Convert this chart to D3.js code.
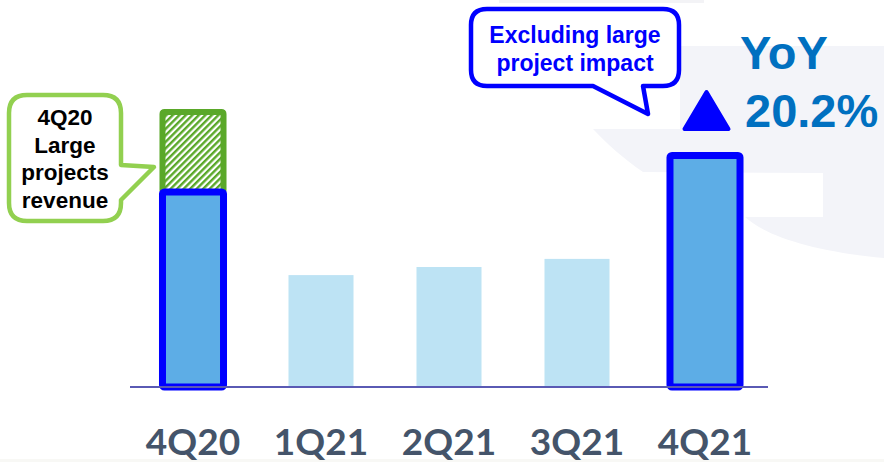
<!DOCTYPE html>
<html>
<head>
<meta charset="utf-8">
<script src="https://cdn.jsdelivr.net/npm/d3@7"></script>
<style>
  body { margin: 0; background: #fff; }
  svg { display: block; }
</style>
</head>
<body>
<div id="chart"></div>
<script>
// quarterly revenue (relative units)
var quarters = ["4Q20", "1Q21", "2Q21", "3Q21", "4Q21"];
var revenue = [65, 37.3, 40, 42.7, 77.2];       // excluding large projects
var largeProjects = [26.7, 0, 0, 0, 0];          // hatched segment on top
var highlighted = ["4Q20", "4Q21"];
var yoyText = ["YoY", "20.2%"];
var leftNote = ["4Q20", "Large", "projects", "revenue"];
var topNote = ["Excluding large", "project impact"];

var svgWidth = 884;
var svgHeight = 462;

var svg = d3.select("#chart")
  .append("svg")
  .attr("width", svgWidth)
  .attr("height", svgHeight);

var data = quarters.map(function(q, i) {
  return { q: q, base: revenue[i], large: largeProjects[i] };
});

// hatch pattern for the large projects segment
var defs = svg.append("defs");
var hatch = defs.append("pattern")
  .attr("id", "hatch")
  .attr("patternUnits", "userSpaceOnUse")
  .attr("width", 4.6)
  .attr("height", 4.6)
  .attr("patternTransform", "rotate(45)");
hatch.append("rect").attr("width", 4.6).attr("height", 4.6).attr("fill", "#fff");
hatch.append("rect").attr("width", 2.4).attr("height", 4.6).attr("fill", "#5aa829");

// faint watermark in the background
svg.append("rect")
  .attr("x", 499).attr("y", 0).attr("width", 205).attr("height", 3)
  .attr("fill", "#f3f3f6");
svg.append("rect")
  .attr("x", 0).attr("y", 459).attr("width", svgWidth).attr("height", 3)
  .attr("fill", "#f8f8f5");
svg.append("path")
  .attr("d", "M680,46 L884,46 L884,258 C820,252 768,238 745,217 L823,217 L823,173 L643,172 C625,160 605,142 593,129 L680,129 Z")
  .attr("fill", "#f3f4f9");

// scales
var x = d3.scaleBand()
  .domain(quarters)
  .range([129, 769])
  .paddingInner(0.492)
  .paddingOuter(0.246);

var y = d3.scaleLinear()
  .domain([0, 100])
  .range([387, 87]);

var bw = x.bandwidth();

// plain bars
svg.selectAll(".bar")
  .data(data.filter(d => highlighted.indexOf(d.q) < 0))
  .enter()
  .append("rect")
  .attr("class", "bar")
  .attr("x", d => x(d.q))
  .attr("y", d => y(d.base))
  .attr("width", bw)
  .attr("height", d => y(0) - y(d.base))
  .attr("fill", "#bde3f4");

// large projects segment (hatched)
svg.selectAll(".large")
  .data(data.filter(d => d.large > 0))
  .enter()
  .append("rect")
  .attr("class", "large")
  .attr("x", d => x(d.q) + 2)
  .attr("y", d => y(d.base + d.large))
  .attr("width", bw - 4)
  .attr("height", d => y(d.base) - y(d.base + d.large))
  .attr("rx", 2)
  .attr("fill", "url(#hatch)")
  .attr("stroke", "#5aa829")
  .attr("stroke-width", 6);

// highlighted bars with thick blue outline
svg.selectAll(".hbar")
  .data(data.filter(d => highlighted.indexOf(d.q) >= 0))
  .enter()
  .append("rect")
  .attr("class", "hbar")
  .attr("x", d => d.q === "4Q21" ? x(d.q) - 2.5 : x(d.q) + 2)
  .attr("y", d => y(d.base))
  .attr("width", d => d.q === "4Q21" ? bw + 5 : bw - 4)
  .attr("height", d => y(0) - y(d.base))
  .attr("rx", 2)
  .attr("fill", "#5dade6")
  .attr("stroke", "#0000ff")
  .attr("stroke-width", 7);

// baseline
svg.append("line")
  .attr("x1", 130).attr("x2", 768)
  .attr("y1", y(0)).attr("y2", y(0))
  .attr("stroke", "#5a5ab4")
  .attr("stroke-width", 2);

// x axis labels
var xAxis = d3.axisBottom(x).tickSize(0).tickPadding(0);
var axisG = svg.append("g")
  .attr("transform", "translate(0, 429)")
  .call(xAxis);
axisG.select(".domain").remove();
axisG.selectAll("text")
  .attr("y", 0)
  .attr("dy", "26px")
  .attr("font-family", "Lato")
  .attr("font-weight", "bold")
  .attr("font-size", "37px")
  .attr("fill", "#44546a");

// callout helper: rounded box with a pointer
function callout(x0, y0, x1, y1, r, tail) {
  var p = d3.path();
  p.moveTo(x0 + r, y0);
  p.lineTo(x1 - r, y0);
  p.quadraticCurveTo(x1, y0, x1, y0 + r);
  if (tail.side === "right") {
    p.lineTo(x1, tail.a);
    p.lineTo(tail.tx, tail.ty);
    p.lineTo(x1, tail.b);
  }
  p.lineTo(x1, y1 - r);
  p.quadraticCurveTo(x1, y1, x1 - r, y1);
  if (tail.side === "bottom") {
    p.lineTo(tail.b, y1);
    p.lineTo(tail.tx, tail.ty);
    p.lineTo(tail.a, y1);
  }
  p.lineTo(x0 + r, y1);
  p.quadraticCurveTo(x0, y1, x0, y1 - r);
  p.lineTo(x0, y0 + r);
  p.quadraticCurveTo(x0, y0, x0 + r, y0);
  p.closePath();
  return p.toString();
}

// left note
svg.append("path")
  .attr("d", callout(9, 95, 121, 221, 18, { side: "right", a: 165, b: 200, tx: 154, ty: 167 }))
  .attr("fill", "#fff")
  .attr("stroke", "#92d050")
  .attr("stroke-width", 4.5)
  .attr("stroke-linejoin", "round");

svg.append("g").selectAll("text")
  .data(leftNote)
  .enter()
  .append("text")
  .attr("x", 65)
  .attr("y", (d, i) => 125 + i * 27.7)
  .attr("text-anchor", "middle")
  .attr("font-family", "Liberation Sans, Arial, sans-serif")
  .attr("font-weight", "bold")
  .attr("font-size", "22.5px")
  .attr("fill", "#000")
  .text(d => d);

// top note
svg.append("path")
  .attr("d", callout(471, 9, 679, 86, 16, { side: "bottom", a: 593, b: 643, tx: 648, ty: 114 }))
  .attr("fill", "#fff")
  .attr("stroke", "#0000ff")
  .attr("stroke-width", 4.5)
  .attr("stroke-linejoin", "round");

svg.append("g").selectAll("text")
  .data(topNote)
  .enter()
  .append("text")
  .attr("x", 575)
  .attr("y", (d, i) => 43 + i * 28)
  .attr("text-anchor", "middle")
  .attr("font-family", "Liberation Sans, Arial, sans-serif")
  .attr("font-weight", "bold")
  .attr("font-size", "23px")
  .attr("fill", "#0000ff")
  .text(d => d);

// YoY up arrow and figure
var cx = x("4Q21") + bw / 2 + 1.5;
svg.append("path")
  .attr("d", `M${cx},92 L${cx + 22},129 L${cx - 22},129 Z`)
  .attr("fill", "#0000ff")
  .attr("stroke", "#0000ff")
  .attr("stroke-width", 4)
  .attr("stroke-linejoin", "round");

svg.append("text")
  .attr("x", 740).attr("y", 69)
  .attr("font-family", "Liberation Sans, Arial, sans-serif")
  .attr("font-weight", "bold")
  .attr("font-size", "47px")
  .attr("fill", "#0070c0")
  .text(yoyText[0]);

svg.append("text")
  .attr("x", 745).attr("y", 127)
  .attr("font-family", "Liberation Sans, Arial, sans-serif")
  .attr("font-weight", "bold")
  .attr("font-size", "47px")
  .attr("fill", "#0070c0")
  .text(yoyText[1]);
</script>
</body>
</html>
